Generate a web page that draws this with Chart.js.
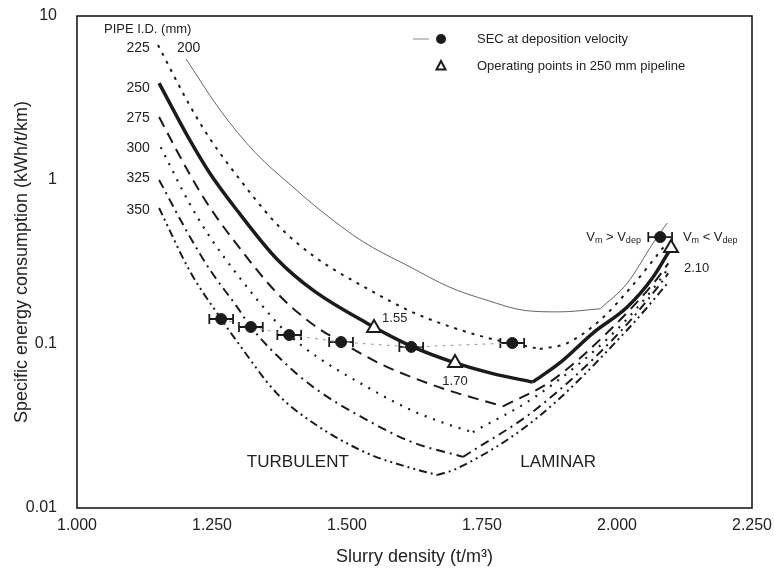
<!DOCTYPE html>
<html>
<head>
<meta charset="utf-8">
<script src="https://cdn.jsdelivr.net/npm/chart.js@4.4.0/dist/chart.umd.min.js"></script>
<style>
  html, body { margin: 0; padding: 0; background: #fff; }
  #wrap { width: 774px; height: 573px; }
</style>
</head>
<body>
<div id="wrap"><canvas id="secChart"></canvas></div>
<script>
// axis ticks
const densityTicks = [1.0, 1.25, 1.5, 1.75, 2.0, 2.25];
const secTicks = [0.01, 0.1, 1, 10];

// SEC curves per pipe I.D. : [slurry density, SEC], turbulent branch then laminar branch
const pipe200Turb = [[1.202, 5.47], [1.265, 2.67], [1.33, 1.47], [1.40, 0.906], [1.45, 0.656], [1.53, 0.42], [1.617, 0.295], [1.69, 0.222], [1.759, 0.185], [1.83, 0.16], [1.894, 0.157], [1.969, 0.164]];
const pipe200Lam = [[1.969, 0.164], [2.019, 0.235], [2.067, 0.413], [2.093, 0.547]];
const pipe225Turb = [[1.150, 6.65], [1.209, 2.84], [1.246, 1.79], [1.296, 1.064], [1.37, 0.538], [1.437, 0.346], [1.537, 0.218], [1.622, 0.156], [1.696, 0.126], [1.77, 0.107], [1.857, 0.0933]];
const pipe225Lam = [[1.857, 0.0933], [1.907, 0.101], [1.969, 0.140], [2.03, 0.23], [2.089, 0.40]];
const pipe250Turb = [[1.152, 3.9], [1.209, 1.75], [1.246, 1.10], [1.296, 0.656], [1.37, 0.33], [1.437, 0.213], [1.537, 0.134], [1.622, 0.096], [1.696, 0.0776], [1.77, 0.066], [1.844, 0.0586]];
const pipe250Lam = [[1.844, 0.0586], [1.894, 0.0766], [1.956, 0.117], [2.019, 0.168], [2.067, 0.256], [2.10, 0.385]];
const pipe275Turb = [[1.152, 2.42], [1.209, 1.08], [1.246, 0.68], [1.296, 0.405], [1.37, 0.205], [1.437, 0.1315], [1.489, 0.1028], [1.561, 0.0759], [1.622, 0.0624], [1.685, 0.0525], [1.789, 0.0417]];
const pipe275Lam = [[1.789, 0.0417], [1.88, 0.060], [1.985, 0.120], [2.07, 0.24], [2.095, 0.31]];
const pipe300Turb = [[1.155, 1.585], [1.209, 0.714], [1.246, 0.45], [1.296, 0.267], [1.37, 0.135], [1.393, 0.1135], [1.437, 0.0869], [1.537, 0.0547], [1.622, 0.0391], [1.696, 0.0316], [1.733, 0.029]];
const pipe300Lam = [[1.733, 0.029], [1.85, 0.048], [1.995, 0.118], [2.075, 0.235], [2.095, 0.29]];
const pipe325Turb = [[1.152, 1.0], [1.209, 0.451], [1.246, 0.284], [1.296, 0.169], [1.322, 0.127], [1.37, 0.0853], [1.437, 0.0548], [1.537, 0.0344], [1.622, 0.0251], [1.715, 0.0205]];
const pipe325Lam = [[1.715, 0.0205], [1.85, 0.040], [2.005, 0.118], [2.08, 0.232], [2.095, 0.27]];
const pipe350Turb = [[1.152, 0.675], [1.209, 0.278], [1.267, 0.142], [1.296, 0.104], [1.37, 0.050], [1.437, 0.0331], [1.537, 0.0216], [1.622, 0.0174], [1.667, 0.0159]];
const pipe350Lam = [[1.667, 0.0159], [1.70, 0.0172], [1.85, 0.035], [2.017, 0.120], [2.094, 0.235]];

// SEC at deposition velocity (one per pipe, 350 -> 200) with density spread
const depositionDensity = [1.267, 1.322, 1.393, 1.489, 1.619, 1.806, 2.080];
const depositionSec = [0.142, 0.127, 0.1135, 0.1028, 0.096, 0.1014, 0.449];
const depositionSpread = [0.022, 0.022, 0.022, 0.022, 0.022, 0.022, 0.022];

// operating points in 250 mm pipeline
const operatingDensity = [1.55, 1.70, 2.10];
const operatingSec = [0.125, 0.0766, 0.385];
const operatingLabels = ['1.55', '1.70', '2.10'];

const FONT = "'Liberation Sans', Arial, sans-serif";
const INK = '#1b1b1b';

const pipeStyles = {
  '200': { width: 0.9, dash: [], color: '#555' },
  '225': { width: 2, dash: [3, 6], color: INK },
  '250': { width: 3.5, dash: [], color: INK },
  '275': { width: 2, dash: [11, 7], color: INK },
  '300': { width: 2.2, dash: [2, 7], color: INK },
  '325': { width: 2, dash: [9, 5, 2, 5], color: INK },
  '350': { width: 2, dash: [8, 4, 2, 4, 2, 4], color: INK }
};
const pipeCurves = {
  '200': [pipe200Turb, pipe200Lam],
  '225': [pipe225Turb, pipe225Lam],
  '250': [pipe250Turb, pipe250Lam],
  '275': [pipe275Turb, pipe275Lam],
  '300': [pipe300Turb, pipe300Lam],
  '325': [pipe325Turb, pipe325Lam],
  '350': [pipe350Turb, pipe350Lam]
};

const toPts = arr => arr.map(p => ({ x: p[0], y: p[1] }));

const datasets = [];
// operating points on top
datasets.push({
  label: 'Operating points in 250 mm pipeline',
  data: operatingDensity.map((d, i) => ({ x: d, y: operatingSec[i] })),
  showLine: false,
  pointStyle: 'triangle',
  pointRadius: 8,
  pointBackgroundColor: '#fff',
  pointBorderColor: INK,
  pointBorderWidth: 2
});
datasets.push({
  label: 'SEC at deposition velocity',
  data: depositionDensity.map((d, i) => ({ x: d, y: depositionSec[i] })),
  showLine: true,
  borderColor: '#9a9a9a',
  borderWidth: 1,
  borderDash: [3, 5],
  segment: { borderColor: c => c.p1DataIndex === depositionDensity.length - 1 ? 'transparent' : '#9a9a9a' },
  pointRadius: 5.5,
  pointBackgroundColor: INK,
  pointBorderColor: INK
});
Object.keys(pipeCurves).forEach(id => {
  const st = pipeStyles[id];
  pipeCurves[id].forEach((branch, k) => {
    datasets.push({
      label: id + (k === 0 ? ' turbulent' : ' laminar'),
      data: toPts(branch),
      showLine: true,
      borderColor: st.color,
      borderWidth: st.width,
      borderDash: st.dash,
      cubicInterpolationMode: 'monotone',
      pointRadius: 0,
      pointHoverRadius: 0
    });
  });
});

// error bars under the deposition dots
const errorBars = {
  id: 'errorBars',
  beforeDatasetDraw(chart, args) {
    if (args.index !== 1) return;
    const { ctx, scales: { x, y } } = chart;
    ctx.save();
    ctx.strokeStyle = INK;
    ctx.lineWidth = 1.8;
    depositionDensity.forEach((d, i) => {
      const lo = x.getPixelForValue(d - depositionSpread[i]);
      const hi = x.getPixelForValue(d + depositionSpread[i]);
      const cy = y.getPixelForValue(depositionSec[i]);
      ctx.beginPath();
      ctx.moveTo(lo, cy); ctx.lineTo(hi, cy);
      ctx.moveTo(lo, cy - 5); ctx.lineTo(lo, cy + 5);
      ctx.moveTo(hi, cy - 5); ctx.lineTo(hi, cy + 5);
      ctx.stroke();
    });
    ctx.restore();
  }
};

function subText(ctx, parts, x0, y0) {
  // parts: [text, isSub]
  let cx = x0;
  parts.forEach(([t, sub]) => {
    ctx.font = (sub ? '9px ' : '13px ') + FONT;
    ctx.fillText(t, cx, y0 + (sub ? 3 : 0));
    cx += ctx.measureText(t).width;
  });
}

const annotations = {
  id: 'annotations',
  afterDraw(chart) {
    const { ctx, chartArea: a, scales: { x, y } } = chart;
    const X = v => x.getPixelForValue(v), Y = v => y.getPixelForValue(v);
    ctx.save();
    // frame
    ctx.strokeStyle = INK;
    ctx.lineWidth = 1.6;
    ctx.strokeRect(a.left, a.top, a.right - a.left, a.bottom - a.top);

    ctx.fillStyle = '#222';
    ctx.textBaseline = 'middle';
    // pipe I.D. labels
    ctx.font = '13px ' + FONT;
    ctx.textAlign = 'left';
    ctx.fillText('PIPE I.D. (mm)', X(1.050), Y(8.3));
    ctx.font = '14px ' + FONT;
    ctx.textAlign = 'right';
    [['225', 6.38], ['250', 3.64], ['275', 2.39], ['300', 1.57], ['325', 1.03], ['350', 0.656]].forEach(([t, v]) => {
      ctx.fillText(t, X(1.135), Y(v));
    });
    ctx.textAlign = 'left';
    ctx.fillText('200', X(1.185), Y(6.38));

    // operating point labels
    ctx.font = '13px ' + FONT;
    ctx.fillText(operatingLabels[0], X(1.565), Y(0.144));
    ctx.textAlign = 'center';
    ctx.fillText(operatingLabels[1], X(1.70), Y(0.0594));
    ctx.textAlign = 'left';
    ctx.fillText(operatingLabels[2], X(2.124), Y(0.29));

    // velocity regime labels
    subText(ctx, [['V', false], ['m', true], [' > V', false], ['dep', true]], X(1.943), Y(0.449));
    subText(ctx, [['V', false], ['m', true], [' < V', false], ['dep', true]], X(2.122), Y(0.449));

    // flow regimes
    ctx.font = '17px ' + FONT;
    ctx.textAlign = 'center';
    ctx.fillText('TURBULENT', X(1.409), Y(0.019));
    ctx.fillText('LAMINAR', X(1.891), Y(0.019));

    // legend
    const ly1 = a.top + 23, ly2 = a.top + 50;
    ctx.strokeStyle = '#8a8a8a';
    ctx.lineWidth = 1;
    ctx.beginPath(); ctx.moveTo(a.left + 336, ly1); ctx.lineTo(a.left + 352, ly1); ctx.stroke();
    ctx.fillStyle = INK;
    ctx.beginPath(); ctx.arc(a.left + 364, ly1, 5, 0, Math.PI * 2); ctx.fill();
    ctx.strokeStyle = INK;
    ctx.lineWidth = 2;
    ctx.beginPath();
    ctx.moveTo(a.left + 364, ly2 - 5); ctx.lineTo(a.left + 368.5, ly2 + 3.5); ctx.lineTo(a.left + 359.5, ly2 + 3.5);
    ctx.closePath(); ctx.stroke();
    ctx.fillStyle = '#222';
    ctx.font = '13px ' + FONT;
    ctx.textAlign = 'left';
    ctx.fillText('SEC at deposition velocity', a.left + 400, ly1);
    ctx.fillText('Operating points in 250 mm pipeline', a.left + 400, ly2);
    ctx.restore();
  }
};

new Chart(document.getElementById('secChart'), {
  type: 'scatter',
  data: { datasets },
  options: {
    responsive: true,
    maintainAspectRatio: false,
    animation: false,
    layout: { padding: { left: 0, right: 22, top: 16, bottom: 0 } },
    plugins: { legend: { display: false }, tooltip: { enabled: false } },
    scales: {
      x: {
        type: 'linear',
        min: 1.0,
        max: 2.25,
        afterBuildTicks: s => { s.ticks = densityTicks.map(v => ({ value: v })); },
        afterFit: s => { s.height = 65; s.paddingLeft = 0; s.paddingRight = 0; },
        grid: { display: false, drawTicks: false },
        border: { display: false },
        ticks: { color: '#222', font: { family: FONT, size: 16 }, padding: 8, callback: v => v.toFixed(3) },
        title: { display: true, text: 'Slurry density (t/m³)', color: '#222', font: { family: FONT, size: 18 }, padding: { top: 5, bottom: 5 } }
      },
      y: {
        type: 'logarithmic',
        min: 0.01,
        max: 10,
        afterBuildTicks: s => { s.ticks = secTicks.map(v => ({ value: v })); },
        afterFit: s => { s.width = 77; s.paddingTop = 0; s.paddingBottom = 0; },
        grid: { display: false, drawTicks: false },
        border: { display: false },
        ticks: { color: '#222', font: { family: FONT, size: 16 }, padding: 20, callback: v => String(v) },
        title: { display: true, text: 'Specific energy consumption (kWh/t/km)', color: '#222', font: { family: FONT, size: 18 }, padding: { top: 11, bottom: 11 } }
      }
    }
  },
  plugins: [errorBars, annotations]
});
</script>
</body>
</html>
